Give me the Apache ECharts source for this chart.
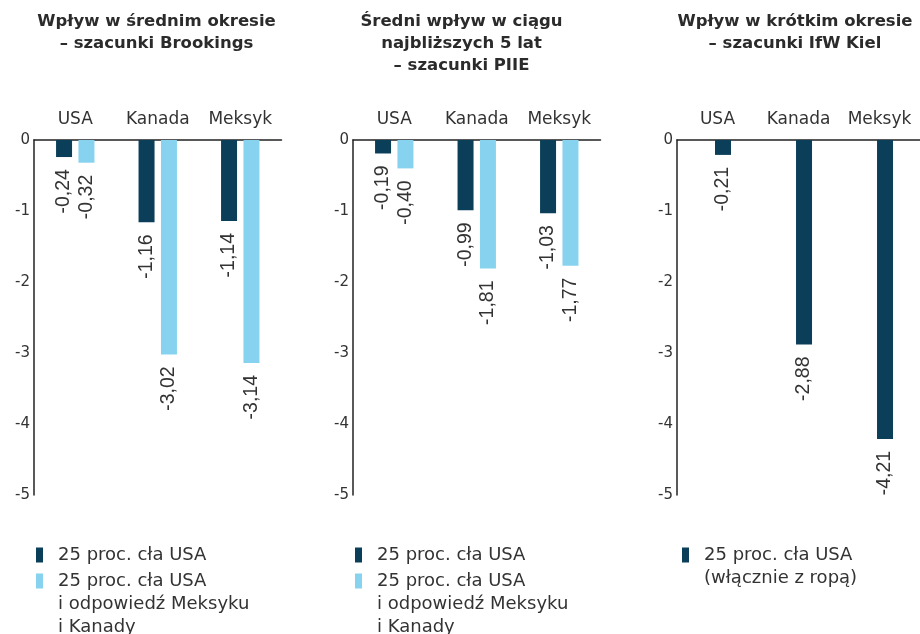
<!DOCTYPE html>
<html>
<head>
<meta charset="utf-8">
<script src="https://cdn.jsdelivr.net/npm/echarts@6/dist/echarts.min.js"></script>
<style>
  html, body { margin: 0; padding: 0; background: #fff; }
  #chart { width: 920px; height: 634px; }
</style>
</head>
<body>
<div id="chart"></div>
<script>
// Countries shown on each panel
const categories = ['USA', 'Kanada', 'Meksyk'];

// Panel headings
const titleBrookings = ['Wpływ w średnim okresie', '– szacunki Brookings'];
const titlePiie = ['Średni wpływ w ciągu', 'najbliższych 5 lat', '– szacunki PIIE'];
const titleKiel = ['Wpływ w krótkim okresie', '– szacunki IfW Kiel'];

// GDP impact, percent
const brookingsTariff = [-0.24, -1.16, -1.14];
const brookingsRetaliation = [-0.32, -3.02, -3.14];
const piieTariff = [-0.19, -0.99, -1.03];
const piieRetaliation = [-0.40, -1.81, -1.77];
const kielTariff = [-0.21, -2.88, -4.21];

// Legend entries (one line of text per element)
const legendTariff = ['25 proc. cła USA'];
const legendRetaliation = ['25 proc. cła USA', 'i odpowiedź Meksyku', 'i Kanady'];
const legendKiel = ['25 proc. cła USA', '(włącznie z ropą)'];

// Value axis range
const yMin = -5;
const yMax = 0;
const yStep = 1;

const DARK = '#0b3f59';
const LIGHT = '#87d2ee';
const TEXT = '#333333';
const AXIS = '#222222';
const SANS = '"DejaVu Sans", sans-serif';
const NUM = '"Liberation Sans", Arial, sans-serif';

const seriesName = lines => lines.join(' ');

const panels = [
  { title: titleBrookings, titleX: 156.5, left: 34, legendLeft: 36,
    series: [
      { legend: legendTariff, data: brookingsTariff, color: DARK },
      { legend: legendRetaliation, data: brookingsRetaliation, color: LIGHT }
    ] },
  { title: titlePiie, titleX: 461.5, left: 353, legendLeft: 355,
    series: [
      { legend: legendTariff, data: piieTariff, color: DARK },
      { legend: legendRetaliation, data: piieRetaliation, color: LIGHT }
    ] },
  { title: titleKiel, titleX: 795, left: 677, legendLeft: 682, offsetSlot: true,
    series: [
      { legend: legendKiel, data: kielTariff, color: DARK }
    ] }
];

const GRID_TOP = 140;
const GRID_H = 355;
const GRID_W = 247.5;
const LEGEND_TOP = 543.5;
const LEGEND_LINE = 23;
const LEGEND_ITEM_STEP = 26;

const option = {
  backgroundColor: '#ffffff',
  animation: false,
  title: [],
  grid: [],
  xAxis: [],
  yAxis: [],
  legend: [],
  series: [],
  graphic: []
};

panels.forEach((p, i) => {
  option.title.push({
    text: p.title.join('\n'),
    left: p.titleX,
    top: 11,
    padding: 0,
    textAlign: 'center',
    textStyle: {
      fontFamily: SANS, fontSize: 16.5, fontWeight: 'bold',
      color: '#2b2b2b', lineHeight: 22
    }
  });

  option.grid.push({ left: p.left, top: GRID_TOP, width: GRID_W, height: GRID_H });

  option.xAxis.push({
    type: 'category',
    gridIndex: i,
    position: 'top',
    data: categories,
    axisLine: { show: true, onZero: true, lineStyle: { color: AXIS, width: 1.5 } },
    axisTick: { show: false },
    axisLabel: { interval: 0, fontFamily: SANS, fontSize: 17, color: TEXT, margin: 12 }
  });

  option.yAxis.push({
    type: 'value',
    gridIndex: i,
    min: yMin, max: yMax, interval: yStep,
    axisLine: { show: true, lineStyle: { color: AXIS, width: 1.5 } },
    axisTick: { show: false },
    splitLine: { show: false },
    axisLabel: { fontFamily: SANS, fontSize: 15, color: TEXT, margin: 4 }
  });

  // single-series panel keeps its bar just right of the category centre
  if (p.offsetSlot) {
    option.series.push({
      type: 'bar', name: '', xAxisIndex: i, yAxisIndex: i,
      barWidth: 16, barGap: '-31%', data: categories.map(() => null),
      silent: true
    });
  }

  p.series.forEach(s => {
    option.series.push({
      type: 'bar',
      name: seriesName(s.legend),
      xAxisIndex: i, yAxisIndex: i,
      data: s.data,
      barWidth: 16,
      barGap: p.offsetSlot ? '-31%' : '40%',
      itemStyle: { color: s.color },
      label: {
        show: true,
        position: 'bottom',
        distance: 12,
        rotate: 90,
        align: 'right',
        verticalAlign: 'middle',
        fontFamily: NUM,
        fontSize: 19.5,
        color: TEXT,
        formatter: prm => prm.value.toFixed(2).replace('.', ',')
      }
    });
  });

  option.legend.push({
    orient: 'vertical',
    left: p.legendLeft,
    top: LEGEND_TOP,
    padding: 0,
    itemWidth: 7,
    itemHeight: 15,
    itemGap: LEGEND_ITEM_STEP - LEGEND_LINE,
    icon: 'rect',
    selectedMode: false,
    data: p.series.map(s => ({ name: seriesName(s.legend), itemStyle: { color: s.color } })),
    formatter: name => {
      const s = p.series.find(x => seriesName(x.legend) === name);
      return s ? s.legend[0] : name;
    },
    textStyle: {
      fontFamily: SANS, fontSize: 18, color: TEXT,
      lineHeight: LEGEND_LINE, padding: [0, 0, 0, 10]
    }
  });

  // continuation lines of multi-line legend entries
  let rowTop = LEGEND_TOP;
  p.series.forEach(s => {
    s.legend.slice(1).forEach((line, k) => {
      option.graphic.push({
        type: 'text',
        left: p.legendLeft + 22,
        top: rowTop + LEGEND_LINE * (k + 1),
        style: {
          text: line, font: '18px ' + SANS, fill: TEXT,
          lineHeight: LEGEND_LINE, verticalAlign: 'top'
        }
      });
    });
    rowTop += LEGEND_ITEM_STEP;
  });
});

const chart = echarts.init(document.getElementById('chart'), null, { renderer: 'canvas' });
chart.setOption(option);
</script>
</body>
</html>
